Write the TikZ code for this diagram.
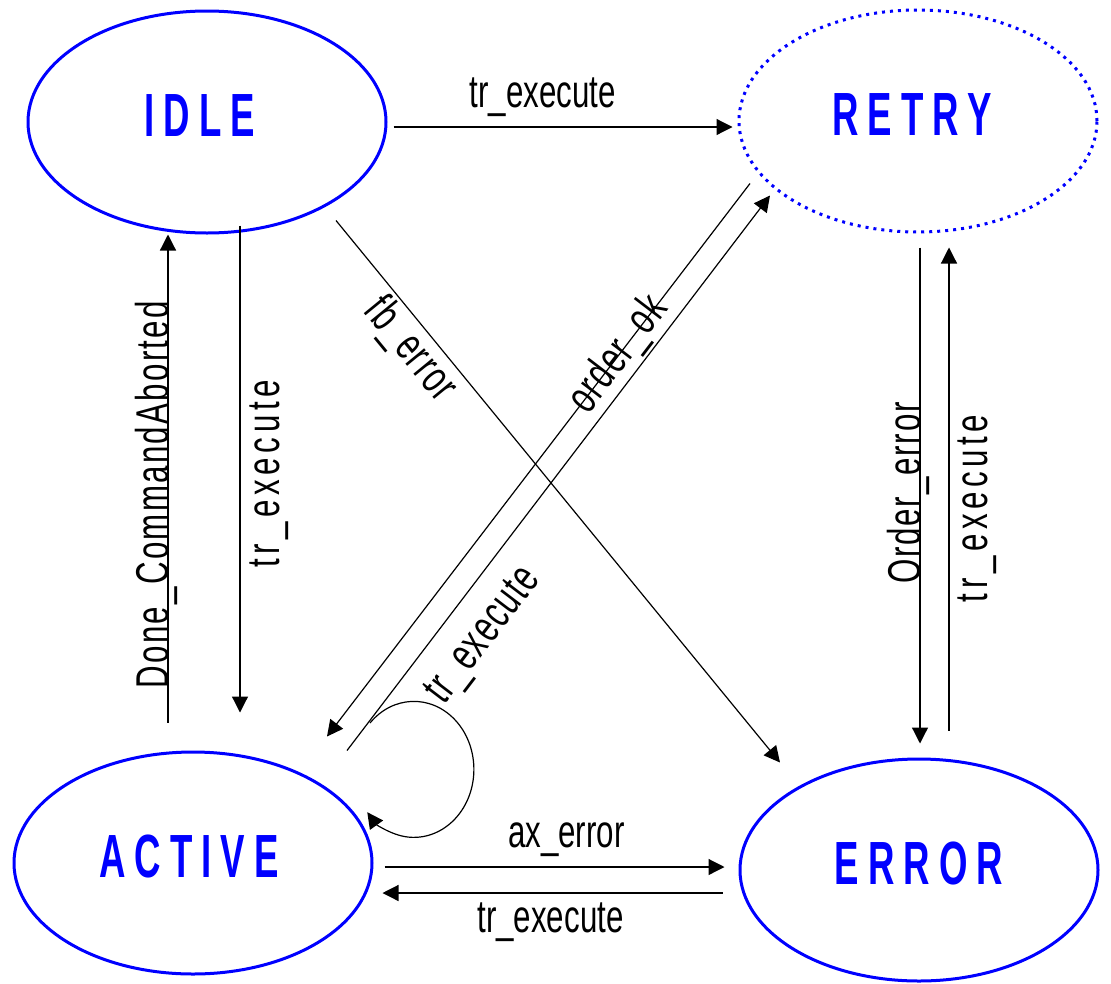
\documentclass[tikz,border=0pt]{standalone}
\usepackage{fontspec}
\setmainfont{Liberation Sans}
\newfontfamily\lblfont[FakeStretch=0.68]{Liberation Sans}
\newfontfamily\statefont[FakeStretch=0.6,LetterSpace=15]{Liberation Sans}
\usetikzlibrary{arrows.meta,shapes.geometric}
\definecolor{stateblue}{RGB}{0,0,255}
\tikzset{
  state/.style={ellipse, draw=stateblue, line width=3pt, minimum width=358pt,
    minimum height=222pt, text=stateblue, text height=44pt, text depth=15pt,
    font=\statefont\bfseries\fontsize{61}{64}\selectfont},
  arr/.style={-{Triangle[length=16pt,width=16pt]}, line width=1.2pt},
  lbl/.style={inner sep=0pt, font=\lblfont\fontsize{46}{50}\selectfont},
  lblsp/.style={inner sep=0pt,
    font=\lblfont\addfontfeatures{LetterSpace=#1}\fontsize{46}{50}\selectfont},
}
\begin{document}
\begin{tikzpicture}[x=1pt, y=1pt, line join=round]
\useasboundingbox (0,0) rectangle (1111,-983);
% states
\node[state] (idle) at (207,-122) {IDLE\kern14pt};
\node[state, dash pattern=on 3pt off 5pt] (retry) at (918,-121) {RETRY\kern12pt};
\node[state] (active) at (193,-863) {ACTIVE\kern8pt};
\node[state] (error) at (919,-870) {ERROR};
% transitions
\draw[arr] ([shift={(6,-5)}]idle.east) --
  node[lbl, pos=0.44, above=10pt] {tr\_execute} ([shift={(-5,-6)}]retry.west);
\draw[arr] ([shift={(33,9)}]idle.south) --
  node[lblsp=10, pos=0.51, rotate=90, anchor=north, outer sep=10pt] {tr\_execute}
  ([shift={(47,38)}]active.north);
\draw[arr] ([shift={(-25,28)}]active.north) --
  node[lblsp=5, pos=0.467, sloped, anchor=base] {Done\_CommandAborted}
  ([shift={(-39,0)}]idle.south);
\draw[arr] ([shift={(129,14)}]idle.south) --
  node[lblsp=3, pos=0.21, sloped, below=3pt] {fb\_error}
  ([shift={(-139,-5)}]error.north);
\draw[arr] ([shift={(-168,50)}]retry.south) --
  node[lblsp=3, pos=0.31, sloped] {order\_ok}
  ([shift={(134,14)}]active.north);
\draw[arr] ([shift={(154,0)}]active.north) --
  node[lblsp=3, pos=0.25, sloped, below=20pt] {tr\_execute}
  ([shift={(-148,38)}]retry.south);
\coordinate (loopstart) at ([shift={(177,140)}]active.center);
\draw[arr] (loopstart) arc[start angle=137, end angle=-141, x radius=60, y radius=68];
\draw[arr] ([shift={(11,-4)}]active.east) --
  node[lbl, pos=0.535, above=10pt] {ax\_error} ([shift={(-14,3)}]error.west);
\draw[arr] ([shift={(-16,-23)}]error.west) --
  node[lbl, pos=0.506, below=9pt] {tr\_execute} ([shift={(9,-30)}]active.east);
\draw[arr] ([shift={(2,-14)}]retry.south) --
  node[lblsp=4, pos=0.495, rotate=90, anchor=base] {Order\_error}
  ([shift={(1,14)}]error.north);
\draw[arr] ([shift={(30,27)}]error.north) --
  node[lblsp=10, pos=0.46, sloped, below=8pt] {tr\_execute}
  ([shift={(31,-14)}]retry.south);
\end{tikzpicture}
\end{document}
